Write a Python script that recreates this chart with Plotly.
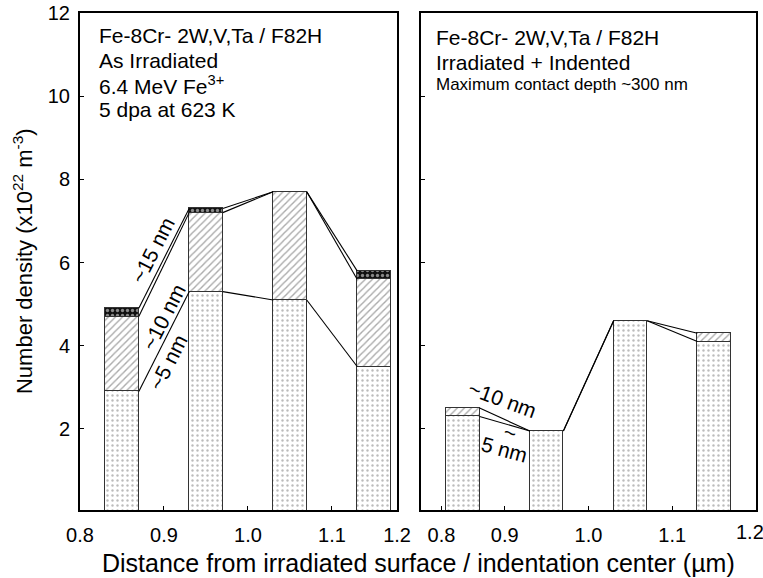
import plotly.graph_objects as go

# ---- data ----
positions = [0.85, 0.95, 1.05, 1.15]          # bar centres (µm)
bar_width = 0.04

# As irradiated (left panel), stacked components (x10^22 m^-3)
left_5nm = [2.9, 5.3, 5.1, 3.5]
left_10nm = [1.8, 1.9, 2.6, 2.1]
left_15nm = [0.2, 0.1, 0.0, 0.2]

# Irradiated + indented (right panel)
right_5nm = [2.3, 1.95, 4.6, 4.1]
right_10nm = [0.2, 0.0, 0.0, 0.2]

y_ticks = [2, 4, 6, 8, 10, 12]
left_xtick_vals = [0.8, 0.9, 1.0, 1.1, 1.1775]
left_xtick_text = ["0.8", "0.9", "1.0", "1.1", "1.2"]
right_xtick_vals = [0.8245, 0.9, 1.0, 1.1, 1.2]
right_xtick_text = ["0.8", "0.9", "1.0", "1.1", ""]
right_last_label = ("1.2", 1.193)

FONT = "Liberation Sans, Arial, Helvetica, sans-serif"

fig = go.Figure()

dots = dict(shape=".", bgcolor="white", fgcolor="#777777", size=5, solidity=0.18)
hatch = dict(shape="/", bgcolor="white", fgcolor="#555555", size=5, solidity=0.28)
check = dict(shape=".", bgcolor="#111111", fgcolor="white", size=5, solidity=0.35)
edge = dict(color="#333333", width=1)


def add_stack(xa, ya, layers):
    for vals, pat in layers:
        fig.add_trace(go.Bar(x=positions, y=vals, width=bar_width, xaxis=xa, yaxis=ya,
                             marker=dict(color="white", pattern=pat, line=edge),
                             showlegend=False))


def add_links(xa, ya, layers):
    cum = [0.0] * len(positions)
    for vals in layers:
        cum = [c + v for c, v in zip(cum, vals)]
        xs, ys = [], []
        for i in range(len(positions) - 1):
            xs += [positions[i] + bar_width / 2, positions[i + 1] - bar_width / 2, None]
            ys += [cum[i], cum[i + 1], None]
        fig.add_trace(go.Scatter(x=xs, y=ys, mode="lines", xaxis=xa, yaxis=ya,
                                 line=dict(color="black", width=1.1),
                                 showlegend=False, hoverinfo="skip"))


add_stack("x", "y", [(left_5nm, dots), (left_10nm, hatch), (left_15nm, check)])
add_links("x", "y", [left_5nm, left_10nm, left_15nm])
add_stack("x2", "y2", [(right_5nm, dots), (right_10nm, hatch)])
add_links("x2", "y2", [right_5nm, right_10nm])

axis_common = dict(showline=True, linewidth=2, linecolor="black", mirror=True,
                   ticks="inside", ticklen=4, tickwidth=1, tickcolor="black",
                   showgrid=False, zeroline=False, automargin=False,
                   tickfont=dict(family=FONT, size=20, color="black"))

ann = []
def text(x, y, s, size=21, xref="x", yref="y", angle=0, xanchor="left", yanchor="middle"):
    ann.append(dict(x=x, y=y, xref=xref, yref=yref, text=s, showarrow=False,
                    textangle=angle, xanchor=xanchor, yanchor=yanchor,
                    font=dict(family=FONT, size=size, color="black")))

# left panel header
text(0.82, 11.47, "Fe-8Cr- 2W,V,Ta / F82H")
text(0.82, 10.87, "As Irradiated")
text(0.82, 10.27, "6.4 MeV Fe<sup>3+</sup>")
text(0.82, 9.68, "5 dpa at 623 K")
# right panel header
text(0.816, 11.42, "Fe-8Cr- 2W,V,Ta / F82H", xref="x2", yref="y2")
text(0.816, 10.82, "Irradiated + Indented", xref="x2", yref="y2")
text(0.816, 10.28, "Maximum contact depth ~300 nm", size=17, xref="x2", yref="y2")
# size labels, left
text(0.886, 6.3, "~15 nm", angle=-63, xanchor="center")
text(0.899, 4.69, "~10 nm", angle=-63, xanchor="center")
text(0.905, 3.59, "~5 nm", angle=-63, xanchor="center")
# size labels, right
text(0.8976, 2.7, "~10 nm", angle=20, xanchor="center", xref="x2", yref="y2")
text(0.906, 1.92, "~", angle=15, xanchor="center", xref="x2", yref="y2")
text(0.900, 1.5, "5 nm", angle=15, xanchor="center", xref="x2", yref="y2")
# last tick label of right panel (kept inside the page)
text(right_last_label[1], -0.044, right_last_label[0], size=20, xref="x2", yref="paper",
     xanchor="center")
# x title
ann.append(dict(x=0.5, y=-0.107, xref="paper", yref="paper", yanchor="middle",
                text="Distance from irradiated surface / indentation center (µm)",
                showarrow=False, font=dict(family=FONT, size=25, color="black")))
# y title
ann.append(dict(x=-0.085, y=0.5, xref="paper", yref="paper", xanchor="center",
                yanchor="middle", textangle=-90,
                text="Number density (x10<sup>22</sup> m<sup>-3</sup>)",
                showarrow=False, font=dict(family=FONT, size=22, color="black")))

fig.update_layout(
    width=763, height=578, margin=dict(l=80, r=7, t=13, b=68, autoexpand=False),
    plot_bgcolor="white", paper_bgcolor="white", barmode="stack", bargap=0,
    annotations=ann, font=dict(family=FONT, color="black"),
    xaxis=dict(domain=[0, 0.469], range=[0.8, 1.1775], tickvals=left_xtick_vals,
               ticktext=left_xtick_text, anchor="y", ticklabelstandoff=6,
               ticklabeloverflow="allow", **axis_common),
    xaxis2=dict(domain=[0.5044, 1], range=[0.8, 1.2], tickvals=right_xtick_vals,
                ticktext=right_xtick_text, anchor="y2", ticklabelstandoff=6,
                **axis_common),
    yaxis=dict(range=[0.05, 12], tickvals=y_ticks, anchor="x", ticklabelstandoff=4,
               ticklabeloverflow="allow", **axis_common),
    yaxis2=dict(range=[0.05, 12], tickvals=y_ticks, showticklabels=False, anchor="x2",
                **axis_common),
)

fig.write_html("out.html")
